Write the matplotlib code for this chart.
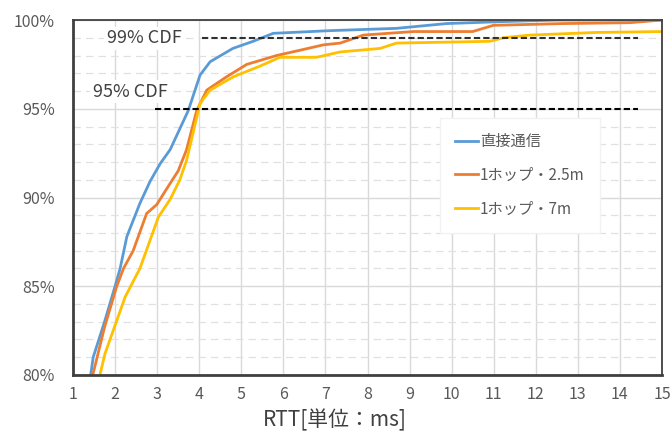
import matplotlib
matplotlib.use("Agg")
import matplotlib.pyplot as plt
from matplotlib.ticker import MultipleLocator, FuncFormatter

plt.rcParams['font.family'] = ['Noto Sans CJK JP', 'DejaVu Sans']

# =========================================
# DONNEES
# =========================================

blue_x = [1.42, 1.48, 1.75, 2.0, 2.12, 2.28, 2.59, 2.83, 3.07, 3.31, 3.74, 4.02, 4.26,
          4.8, 5.28, 5.76, 7.1, 8.69, 9.88, 11.07, 12.5, 15]
blue_y = [80, 81, 83, 85, 86.0, 87.8, 89.67, 90.9, 91.9, 92.7, 94.9, 96.9, 97.65,
          98.4, 98.8, 99.25, 99.4, 99.53, 99.8, 99.9, 100, 100]

orange_x = [1.47, 1.75, 2.04, 2.2, 2.43, 2.75, 2.99, 3.31, 3.5, 3.7, 3.94, 4.18, 4.65,
            5.13, 5.84, 6.4, 6.95, 7.35, 7.9, 9.09, 10.5, 10.99, 12.65, 14.24, 15]
orange_y = [80, 82.7, 85, 86.0, 87.0, 89.1, 89.6, 90.8, 91.5, 92.7, 94.9, 96.05, 96.8,
            97.5, 98.0, 98.3, 98.6, 98.7, 99.15, 99.35, 99.35, 99.7, 99.8, 99.85, 100]

yellow_x = [1.64, 1.76, 2.0, 2.24, 2.59, 3.03, 3.31, 3.54, 3.7, 4.02, 4.26, 4.81,
            5.44, 5.92, 6.79, 7.35, 8.3, 8.69, 10.91, 11.23, 11.86, 13.44, 15]
yellow_y = [80, 81.2, 82.8, 84.4, 86.0, 88.9, 89.9, 91.0, 92.1, 95.3, 96.05, 96.8,
            97.4, 97.9, 97.9, 98.2, 98.4, 98.7, 98.8, 99.0, 99.15, 99.3, 99.35]

labels = ["直接通信", "1ホップ・2.5m", "1ホップ・7m"]
colors = ["#5B9BD5", "#ED7D31", "#FFC000"]

cdf99_x = [4.06, 14.43]
cdf95_x = [2.95, 14.43]

# =========================================
# FIGURE
# =========================================

fig = plt.figure(figsize=(6.71, 4.37), dpi=100)
ax = fig.add_axes([0.1088, 0.1419, 0.8778, 0.8123])

ax.set_xlim(1, 15)
ax.set_ylim(80, 100)

ax.xaxis.set_major_locator(MultipleLocator(1))
ax.yaxis.set_major_locator(MultipleLocator(5))
ax.yaxis.set_minor_locator(MultipleLocator(1))
ax.yaxis.set_major_formatter(FuncFormatter(lambda v, p: f"{v:.0f}%"))

ax.grid(True, which='major', axis='both', color='#d9d9d9', lw=1.0, ls='-')
ax.grid(True, which='minor', axis='y', color='#e0e0e0', lw=0.9, ls=(0, (6, 4)))
ax.set_axisbelow(True)

ax.tick_params(which='both', length=0, colors='#595959', labelsize=11.5)
ax.tick_params(axis='y', pad=13)
ax.tick_params(axis='x', pad=8)

for s in ['left', 'bottom']:
    ax.spines[s].set_color('#404040')
    ax.spines[s].set_linewidth(2.0)
for s in ['top', 'right']:
    ax.spines[s].set_color('#404040')
    ax.spines[s].set_linewidth(1.3)

ax.plot(blue_x, blue_y, color=colors[0], lw=2, label=labels[0])
ax.plot(orange_x, orange_y, color=colors[1], lw=2, label=labels[1])
ax.plot(yellow_x, yellow_y, color=colors[2], lw=2, label=labels[2])

ax.plot(cdf99_x, [99, 99], color='#303030', lw=1.5, ls=(0, (3, 1.5)))
ax.plot(cdf95_x, [95, 95], color='black', lw=1.5, ls=(0, (3, 1.5)))

box = dict(facecolor='white', edgecolor='none', pad=2)
ax.text(1.81, 98.97, "99% CDF", fontsize=13, color='#404040', va='center', bbox=box)
ax.text(1.48, 95.96, "95% CDF", fontsize=13, color='#404040', va='center', bbox=box)

leg = ax.legend(loc='upper left', bbox_to_anchor=(0.623, 0.725), frameon=True,
                fontsize=11, handlelength=1.5, handletextpad=0.1,
                labelspacing=1.1, borderpad=1.0, borderaxespad=0, fancybox=False)
leg.get_frame().set_edgecolor('#f2f2f2')
leg.get_frame().set_facecolor('white')
leg.get_frame().set_alpha(1)
for t in leg.get_texts():
    t.set_color('#595959')

ax.set_xlabel("RTT[単位：ms]", fontsize=15, color='#404040')
ax.xaxis.set_label_coords(0.445, -0.095)

fig.savefig("out.png", dpi=100)
